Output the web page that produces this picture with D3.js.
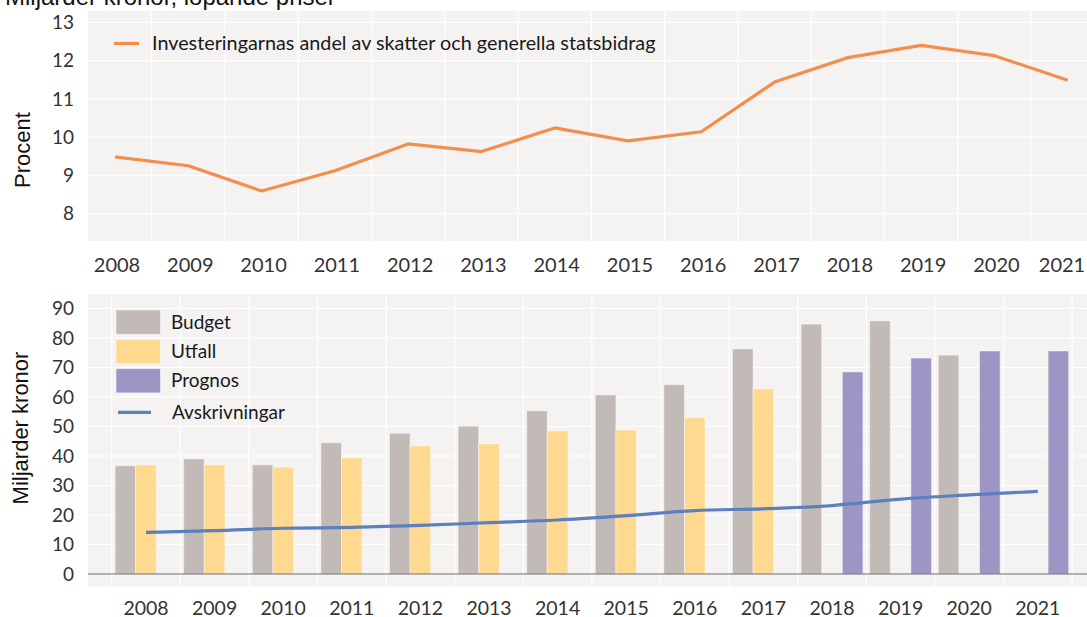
<!DOCTYPE html>
<html>
<head>
<meta charset="utf-8">
<script src="https://cdn.jsdelivr.net/npm/d3@7"></script>
<style>
  html, body { margin: 0; padding: 0; background: #ffffff; }
  svg { display: block; }
</style>
</head>
<body>
<div id="chart"></div>
<script>
// --- Data ---
const years = [2008, 2009, 2010, 2011, 2012, 2013, 2014, 2015, 2016, 2017, 2018, 2019, 2020, 2021];
const andel = [9.48, 9.25, 8.59, 9.12, 9.82, 9.62, 10.24, 9.9, 10.14, 11.44, 12.08, 12.4, 12.13, 11.49];
const budget = [36.7, 39.0, 37.0, 44.5, 47.7, 50.1, 55.3, 60.7, 64.2, 76.3, 84.7, 85.8, 74.2, null];
const utfall = [37.0, 37.0, 36.2, 39.4, 43.4, 44.1, 48.5, 48.8, 53.0, 62.8, null, null, null, null];
const prognos = [null, null, null, null, null, null, null, null, null, null, 68.5, 73.2, 75.6, 75.6];
const avskrivningar = [14.1, 14.7, 15.5, 15.8, 16.5, 17.4, 18.3, 19.8, 21.5, 22.1, 23.2, 25.4, 26.8, 28.0];
const topTicks = [8, 9, 10, 11, 12, 13];
const bottomTicks = [0, 10, 20, 30, 40, 50, 60, 70, 80, 90];
const seriesNames = ['Budget', 'Utfall', 'Prognos'];

const colors = {
  Budget: '#c2bab6',
  Utfall: '#fed98f',
  Prognos: '#9d96c5',
  avskr: '#5b80bd',
  andel: '#f28f4d'
};
const panelBg = '#f4f3f2';
const textColor = '#333333';
const chartFont = 'Lato, "Open Sans", sans-serif';
const titleFont = '"Liberation Sans", Arial, sans-serif';

const width = 1087, height = 617;
const svg = d3.select('#chart').append('svg')
  .attr('width', width)
  .attr('height', height);

// Title (clipped at top like the original)
svg.append('text')
  .attr('x', 5).attr('y', 5)
  .style('font-family', titleFont)
  .style('font-size', '24px')
  .style('fill', '#111')
  .text('Miljarder kronor, löpande priser');

// =========== Top panel: line chart ===========
const topPanel = { x: 88, y: 11, w: 999, h: 230 };
const xTop = d3.scalePoint().domain(years).range([115, 1067.7]);
const yTop = d3.scaleLinear().domain([7.28, 13.3]).range([topPanel.y + topPanel.h, topPanel.y]);

const gTop = svg.append('g');
gTop.append('rect')
  .attr('x', topPanel.x).attr('y', topPanel.y)
  .attr('width', topPanel.w).attr('height', topPanel.h)
  .attr('fill', panelBg);

// horizontal gridlines
gTop.selectAll('.hgrid').data(topTicks).enter().append('line')
  .attr('x1', topPanel.x).attr('x2', topPanel.x + topPanel.w)
  .attr('y1', d => yTop(d)).attr('y2', d => yTop(d))
  .attr('stroke', '#ffffff').attr('stroke-width', 1.2);

// vertical gridlines between years
const stepTop = xTop.step();
gTop.selectAll('.vgrid').data(years.slice(0, -1)).enter().append('line')
  .attr('x1', d => xTop(d) + stepTop / 2).attr('x2', d => xTop(d) + stepTop / 2)
  .attr('y1', topPanel.y).attr('y2', topPanel.y + topPanel.h)
  .attr('stroke', '#ffffff').attr('stroke-width', 1.2);

// y tick labels
gTop.selectAll('.ylab').data(topTicks).enter().append('text')
  .attr('x', 74).attr('y', d => yTop(d))
  .attr('dy', '0.35em')
  .attr('text-anchor', 'end')
  .style('font-family', chartFont).style('font-size', '19px')
  .style('fill', textColor)
  .text(d => d);

// x tick labels (keep the last one inside the picture)
gTop.selectAll('.xlab').data(years).enter().append('text')
  .attr('x', d => Math.min(xTop(d) + 2, width - 25))
  .attr('y', 271.5)
  .attr('text-anchor', 'middle')
  .style('font-family', chartFont).style('font-size', '20px')
  .style('fill', textColor)
  .text(d => d);

// line
const lineTop = d3.line()
  .x((d, i) => xTop(years[i]))
  .y(d => yTop(d));
gTop.append('path')
  .datum(andel)
  .attr('d', lineTop)
  .attr('fill', 'none')
  .attr('stroke', colors.andel)
  .attr('stroke-width', 3.2)
  .attr('stroke-linejoin', 'round');

// legend
gTop.append('line')
  .attr('x1', 114).attr('x2', 139).attr('y1', 43.5).attr('y2', 43.5)
  .attr('stroke', colors.andel).attr('stroke-width', 3.2);
gTop.append('text')
  .attr('x', 152).attr('y', 43.5).attr('dy', '0.35em')
  .style('font-family', chartFont).style('font-size', '19.8px')
  .style('fill', '#1a1a1a')
  .text('Investeringarnas andel av skatter och generella statsbidrag');

// y-axis title
svg.append('text')
  .attr('transform', 'translate(30,150) rotate(-90)')
  .attr('text-anchor', 'middle')
  .style('font-family', titleFont).style('font-size', '22px')
  .style('fill', '#111')
  .text('Procent');

// =========== Bottom panel: bars ===========
const botPanel = { x: 88, y: 294, w: 999, h: 292.7 };
const xBot = d3.scaleBand().domain(years).range([111.7, 1072.1]).paddingInner(0).paddingOuter(0);
const xSub = d3.scaleBand().domain(seriesNames).range([0, xBot.bandwidth()]).paddingOuter(0.165).paddingInner(0);
const yBot = d3.scaleLinear().domain([0, 90]).range([574, 308.5]);

const gBot = svg.append('g');
gBot.append('rect')
  .attr('x', botPanel.x).attr('y', botPanel.y)
  .attr('width', botPanel.w).attr('height', botPanel.h)
  .attr('fill', panelBg);

gBot.selectAll('.hgrid').data(bottomTicks.slice(1)).enter().append('line')
  .attr('x1', botPanel.x).attr('x2', botPanel.x + botPanel.w)
  .attr('y1', d => yBot(d)).attr('y2', d => yBot(d))
  .attr('stroke', '#ffffff').attr('stroke-width', 1.2);

const bandEdges = years.map(d => xBot(d)).concat([xBot(years[years.length - 1]) + xBot.bandwidth()]);
gBot.selectAll('.vgrid').data(bandEdges).enter().append('line')
  .attr('x1', d => d).attr('x2', d => d)
  .attr('y1', botPanel.y).attr('y2', botPanel.y + botPanel.h)
  .attr('stroke', '#ffffff').attr('stroke-width', 1.2);

// bars
const barData = [];
years.forEach((yr, i) => {
  [['Budget', budget[i]], ['Utfall', utfall[i]], ['Prognos', prognos[i]]].forEach(([s, v]) => {
    if (v != null) barData.push({ year: yr, series: s, value: v });
  });
});
gBot.selectAll('.bar').data(barData).enter().append('rect')
  .attr('x', d => xBot(d.year) + xSub(d.series))
  .attr('width', xSub.bandwidth())
  .attr('y', d => yBot(d.value))
  .attr('height', d => yBot(0) - yBot(d.value))
  .attr('fill', d => colors[d.series])
  .attr('stroke', 'rgba(255,255,255,0.45)')
  .attr('stroke-width', 1);

// zero line
gBot.append('line')
  .attr('x1', botPanel.x).attr('x2', botPanel.x + botPanel.w)
  .attr('y1', yBot(0)).attr('y2', yBot(0))
  .attr('stroke', '#6e6e6e').attr('stroke-width', 1.2);

// avskrivningar line
const lineBot = d3.line()
  .x((d, i) => xBot(years[i]) + xBot.bandwidth() / 2)
  .y(d => yBot(d))
  .curve(d3.curveMonotoneX);
gBot.append('path')
  .datum(avskrivningar)
  .attr('d', lineBot)
  .attr('fill', 'none')
  .attr('stroke', colors.avskr)
  .attr('stroke-width', 3.2);

// y tick labels
gBot.selectAll('.ylab').data(bottomTicks).enter().append('text')
  .attr('x', 74).attr('y', d => yBot(d))
  .attr('dy', '0.35em')
  .attr('text-anchor', 'end')
  .style('font-family', chartFont).style('font-size', '19px')
  .style('fill', textColor)
  .text(d => d);

// x tick labels
gBot.selectAll('.xlab').data(years).enter().append('text')
  .attr('x', d => xBot(d) + xBot.bandwidth() / 2).attr('y', 614.5)
  .attr('text-anchor', 'middle')
  .style('font-family', chartFont).style('font-size', '19.5px')
  .style('fill', textColor)
  .text(d => d);

// legend
const legend = gBot.append('g');
seriesNames.forEach((s, i) => {
  const ly = 310 + i * 29.3;
  legend.append('rect')
    .attr('x', 116).attr('y', ly)
    .attr('width', 44.5).attr('height', 24.3)
    .attr('fill', colors[s])
    .attr('stroke', 'rgba(255,255,255,0.5)').attr('stroke-width', 1);
  legend.append('text')
    .attr('x', 171).attr('y', ly + 12.2).attr('dy', '0.35em')
    .style('font-family', chartFont).style('font-size', '19px')
    .style('fill', '#1a1a1a')
    .text(s);
});
legend.append('line')
  .attr('x1', 118).attr('x2', 151).attr('y1', 412.3).attr('y2', 412.3)
  .attr('stroke', colors.avskr).attr('stroke-width', 3.2);
legend.append('text')
  .attr('x', 172).attr('y', 412.5).attr('dy', '0.35em')
  .style('font-family', chartFont).style('font-size', '19px')
  .style('fill', '#1a1a1a')
  .text('Avskrivningar');

// y-axis title
svg.append('text')
  .attr('transform', 'translate(28,428) rotate(-90)')
  .attr('text-anchor', 'middle')
  .style('font-family', titleFont).style('font-size', '22px')
  .style('fill', '#111')
  .text('Miljarder kronor');
</script>
</body>
</html>
